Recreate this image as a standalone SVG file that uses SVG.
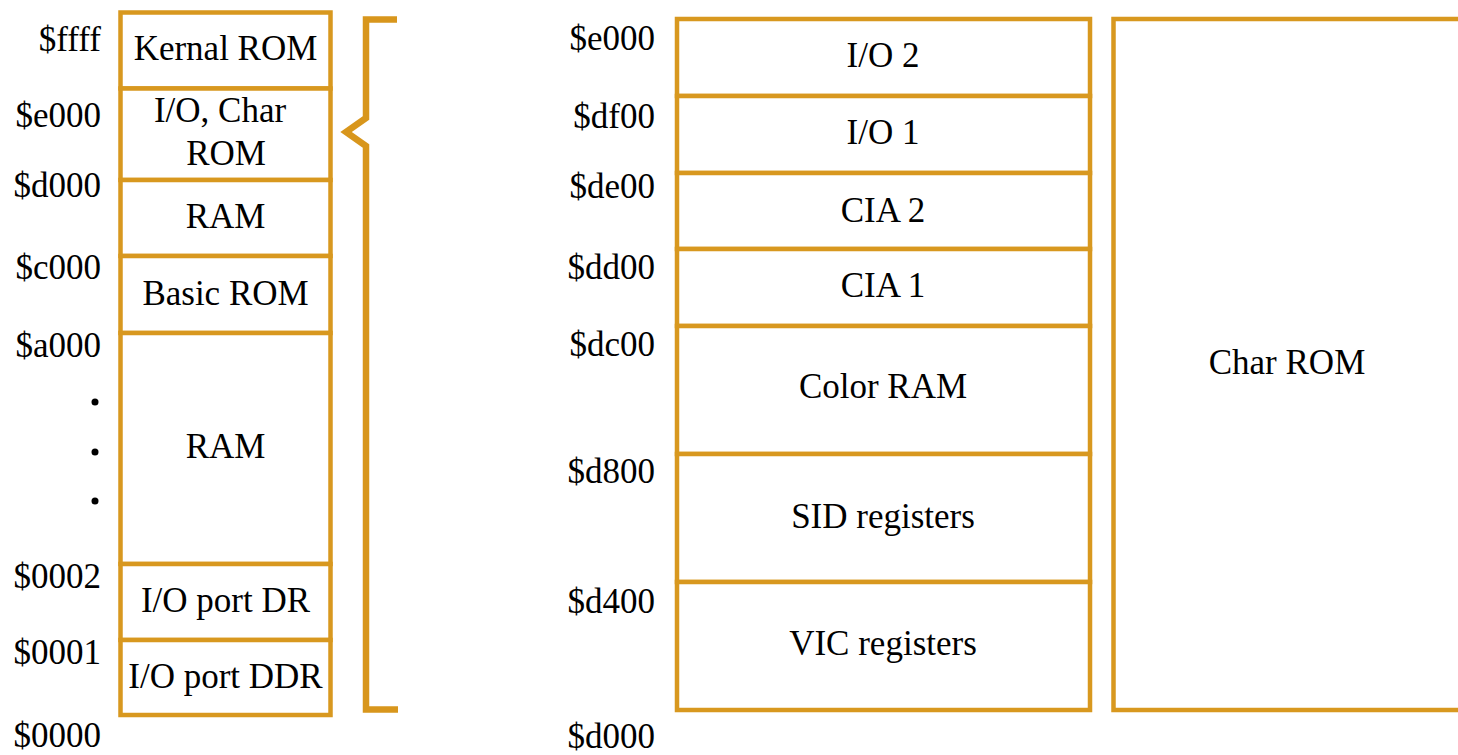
<svg xmlns="http://www.w3.org/2000/svg" width="1458" height="755" viewBox="0 0 1458 755">
<style>
.box{fill:#ffffff;stroke:#D8981F;stroke-width:4.5}
.t{font-family:'Liberation Serif','DejaVu Serif',serif;font-size:35px;fill:#000}
.c{text-anchor:middle}
.r{text-anchor:end}
.brace{fill:none;stroke:#D8961C;stroke-width:6.5;stroke-linejoin:miter}
</style>
<rect width="1458" height="755" fill="#ffffff"/>
<g id="addr-left" class="t r" font-family="Liberation Serif, serif">
<text x="101" y="51">$ffff</text>
<text x="101" y="127">$e000</text>
<text x="101" y="197">$d000</text>
<text x="101" y="279">$c000</text>
<text x="101" y="357">$a000</text>
<text x="101" y="588">$0002</text>
<text x="101" y="664">$0001</text>
<text x="101" y="747">$0000</text>
</g>
<g id="dots">
<circle cx="95" cy="402" r="3.5" fill="#000"/>
<circle cx="95" cy="452" r="3.5" fill="#000"/>
<circle cx="95" cy="501" r="3.5" fill="#000"/>
</g>
<g id="kernal-rom"><rect class="box" x="120.5" y="12.5" width="210" height="76"/><text class="t c" x="225.5" y="60">Kernal ROM</text></g>
<g id="io-char-rom"><rect class="box" x="120.5" y="88.5" width="210" height="91.5"/><text class="t c" x="220" y="122">I/O, Char</text><text class="t c" x="226" y="165">ROM</text></g>
<g id="ram-high"><rect class="box" x="120.5" y="180" width="210" height="76"/><text class="t c" x="225.5" y="228">RAM</text></g>
<g id="basic-rom"><rect class="box" x="120.5" y="256" width="210" height="77"/><text class="t c" x="225.5" y="305">Basic ROM</text></g>
<g id="ram-low"><rect class="box" x="120.5" y="333" width="210" height="231"/><text class="t c" x="225.5" y="458">RAM</text></g>
<g id="io-port-dr"><rect class="box" x="120.5" y="564" width="210" height="76"/><text class="t c" x="225.5" y="612">I/O port DR</text></g>
<g id="io-port-ddr"><rect class="box" x="120.5" y="640" width="210" height="75"/><text class="t c" x="225.5" y="688">I/O port DDR</text></g>
<g id="connectors">
<path class="brace" d="M397,19.5 H366 V118 L346,132 L366,146 V709.5 H398"/>
</g>
<g id="addr-right" class="t r">
<text x="655" y="50">$e000</text>
<text x="655" y="128">$df00</text>
<text x="655" y="198">$de00</text>
<text x="655" y="279">$dd00</text>
<text x="655" y="356">$dc00</text>
<text x="655" y="483">$d800</text>
<text x="655" y="613">$d400</text>
<text x="655" y="748">$d000</text>
</g>
<g id="io2"><rect class="box" x="677" y="19" width="413" height="77"/><text class="t c" x="883" y="67">I/O 2</text></g>
<g id="io1"><rect class="box" x="677" y="96" width="413" height="77"/><text class="t c" x="883" y="144">I/O 1</text></g>
<g id="cia2"><rect class="box" x="677" y="173" width="413" height="76"/><text class="t c" x="883" y="222">CIA 2</text></g>
<g id="cia1"><rect class="box" x="677" y="249" width="413" height="77"/><text class="t c" x="883" y="297">CIA 1</text></g>
<g id="color-ram"><rect class="box" x="677" y="326" width="413" height="128"/><text class="t c" x="883" y="398">Color RAM</text></g>
<g id="sid"><rect class="box" x="677" y="454" width="413" height="128"/><text class="t c" x="883" y="528">SID registers</text></g>
<g id="vic"><rect class="box" x="677" y="582" width="413" height="128"/><text class="t c" x="883" y="655">VIC registers</text></g>
<g id="char-rom"><rect class="box" x="1113.5" y="19" width="360" height="691"/><text class="t c" x="1287" y="374">Char ROM</text></g>
</svg>
